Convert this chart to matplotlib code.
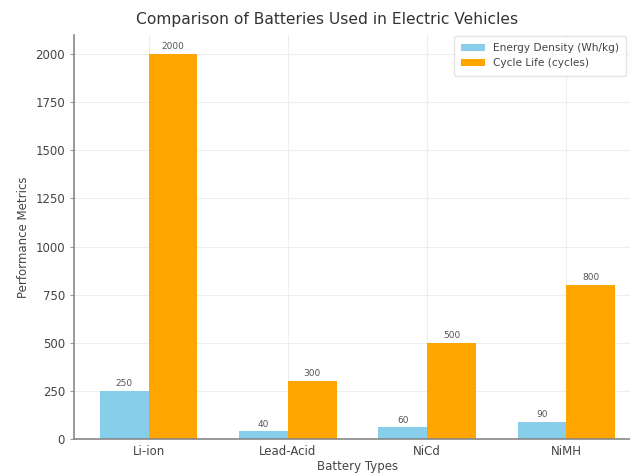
import numpy as np
import matplotlib
matplotlib.use("Agg")
import matplotlib.pyplot as plt

battery_types = ["Li-ion", "Lead-Acid", "NiCd", "NiMH"]
energy_density = [250, 40, 60, 90]
cycle_life = [2000, 300, 500, 800]

DPI = 100
fig = plt.figure(figsize=(6.30, 4.75), dpi=DPI)
W, H = 630, 475
left, right, top, bottom = 74, 641, 34.75, 439
ax = fig.add_axes([left / W, 1 - bottom / H, (right - left) / W, (bottom - top) / H])

x = np.arange(len(battery_types))
width = 0.35
text_color = "#444444"

b1 = ax.bar(x - width / 2, energy_density, width, label="Energy Density (Wh/kg)", color="#87CEEB", zorder=2)
b2 = ax.bar(x + width / 2, cycle_life, width, label="Cycle Life (cycles)", color="#FFA500", zorder=2)

for bars in (b1, b2):
    for rect in bars:
        h = rect.get_height()
        ax.annotate(f"{h:g}", xy=(rect.get_x() + rect.get_width() / 2, h),
                    xytext=(0, 2), textcoords="offset points",
                    ha="center", va="bottom", fontsize=6.5, color="#555555")

ax.set_xticks(x)
ax.set_xticklabels(battery_types, fontsize=8.5, color=text_color)
ax.tick_params(axis="y", labelsize=8.5, labelcolor=text_color, color="#999999", length=3)
ax.tick_params(axis="x", length=0, pad=4)
ax.set_yticks(np.arange(0, 2001, 250))
ax.set_ylim(0, 2100)

ax.set_xlabel("Battery Types", fontsize=8.5, color=text_color, labelpad=2)
ax.set_ylabel("Performance Metrics", fontsize=8.5, color=text_color)
ax.set_title("Comparison of Batteries Used in Electric Vehicles", fontsize=11.2,
             color="#333333", x=0.446, pad=8)

ax.grid(True, color="#eeeeee", linewidth=0.8, zorder=0)
ax.set_axisbelow(True)
for s in ("top", "right"):
    ax.spines[s].set_visible(False)
for s in ("left", "bottom"):
    ax.spines[s].set_color("#888888")
    ax.spines[s].set_linewidth(1.2)

leg = ax.legend(loc="upper left", bbox_to_anchor=(454 / W, 1 - 36 / H),
                bbox_transform=fig.transFigure, borderaxespad=0, borderpad=0.7,
                fontsize=7.6, frameon=True, labelcolor=text_color,
                handlelength=2.2, labelspacing=0.45)
leg.get_frame().set_edgecolor("#dddddd")

fig.savefig("out.png", dpi=DPI)
